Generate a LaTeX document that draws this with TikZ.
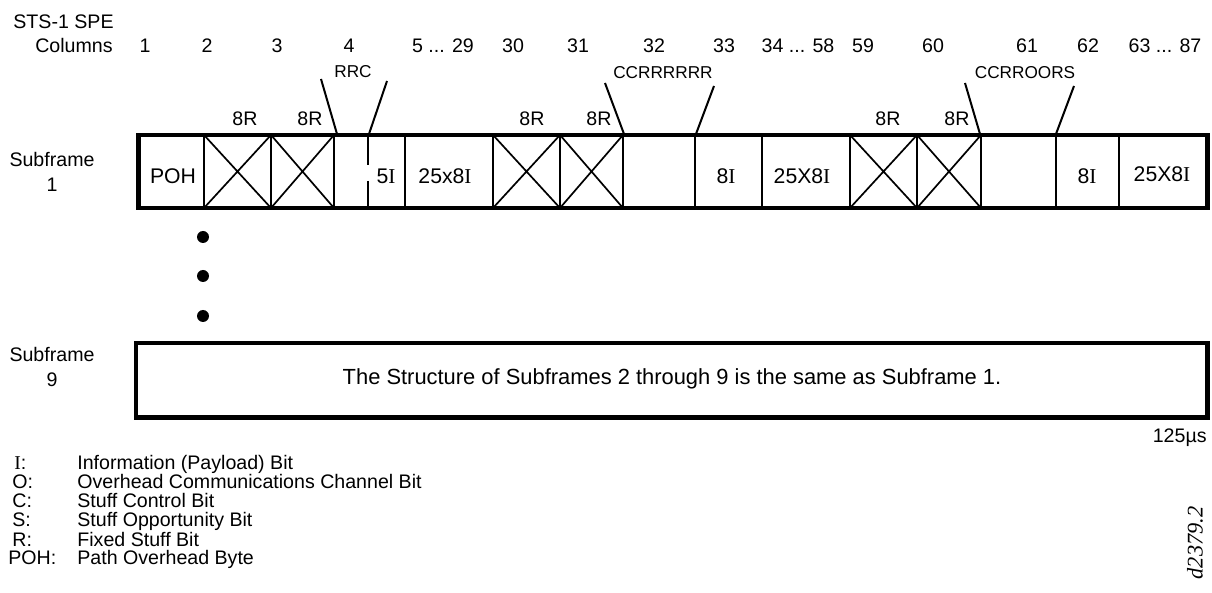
\documentclass[tikz,border=0pt]{standalone}
\usepackage{fontspec}
\setmainfont{Liberation Sans}
\newfontfamily\timesfont{Liberation Serif}
\newcommand{\bitI}{{\timesfont I}}
\usepackage{tikz}

\tikzset{
  outerline/.style={line width=2.4pt},
  divider/.style={line width=1pt},
  xline/.style={line width=0.85pt},
  leader/.style={line width=1pt},
  lbl/.style={font=\fontsize{9.8}{12.5}\selectfont, inner sep=0pt},
  smalllbl/.style={font=\fontsize{8.6}{10}\selectfont, inner sep=0pt, anchor=base},
  celltext/.style={font=\fontsize{10.6}{12}\selectfont, inner sep=0pt, anchor=base}
}

\begin{document}
\begin{tikzpicture}[x=0.5pt, y=-0.5pt]
    \useasboundingbox (0,0) rectangle (1212,593);

    % Column heading
    \node[lbl, anchor=base west] (sts) at (13,29) {STS-1 SPE};
    \node[lbl, anchor=base east] (columns) at (113,53) {Columns};
    \foreach \x/\t [count=\i] in {145/1, 207/2, 277/3, 349/4, 443/{5 ... 29},
                                  513/30, 578/31, 654/32, 724/33, 798/{34 ... 58},
                                  863/59, 933/60, 1027/61, 1088/62, 1165/{63 ... 87}}
        \node[lbl, anchor=base] (col\i) at (\x,53) {\t};

    % Row labels
    \node[lbl, align=center] (sub1) at (52,172) {Subframe\\1};
    \node[lbl, align=center] (sub9) at (52,367) {Subframe\\9};

    % Subframe 1: stuffed byte cells
    \foreach \a/\b in {204/271, 271/334, 493/560, 560/623, 850/917, 917/981} {
        \draw[divider] (\a,135) -- (\a,208) (\b,135) -- (\b,208);
        \draw[xline] (\a,135) -- (\b,208) (\a,208) -- (\b,135);
    }

    % Subframe 1: plain dividers
    \foreach \x in {405, 695, 762, 1056, 1119}
        \draw[divider] (\x,135) -- (\x,208);
    \draw[divider] (368,135) -- (368,165) (368,181) -- (368,208);

    % Subframe 1: outline
    \draw[outerline] (138.5,135) rectangle (1207.5,208);

    % Subframe 1: cell texts
    \node[celltext] (poh) at (173,184) {POH};
    \node[celltext] (info4) at (386,184) {5\bitI};
    \node[celltext] (info5) at (445,184) {25x8\bitI};
    \node[celltext] (info33) at (726,184) {8\bitI};
    \node[celltext] (info34) at (802,184) {25X8\bitI};
    \node[celltext] (info62) at (1087,184) {8\bitI};
    \node[celltext] (info63) at (1162,182) {25X8\bitI};

    % Fixed stuff labels
    \foreach \x [count=\i] in {245, 310, 532, 599, 888, 957}
        \node[lbl, anchor=base] (fix\i) at (\x,126) {8R};

    % Bit pattern labels
    \node[smalllbl] (rrc) at (353,78) {RRC};
    \node[smalllbl] (ccr) at (663,79) {CCRRRRRR};
    \node[smalllbl] (cco) at (1025,79) {CCRROORS};

    % Leader ends
    \coordinate (rrcL) at (321,79);   \coordinate (c4L) at (337,134);
    \coordinate (rrcR) at (387,81);   \coordinate (c4R) at (369,134);
    \coordinate (ccrL) at (605,83);   \coordinate (c32L) at (624,134);
    \coordinate (ccrR) at (714,86);   \coordinate (c32R) at (696,134);
    \coordinate (ccoL) at (965,83);   \coordinate (c61L) at (980,134);
    \coordinate (ccoR) at (1074,86);  \coordinate (c61R) at (1056,134);

    % Leaders
    \draw[leader] (rrcL) -- (c4L) (rrcR) -- (c4R);
    \draw[leader] (ccrL) -- (c32L) (ccrR) -- (c32R);
    \draw[leader] (ccoL) -- (c61L) (ccoR) -- (c61R);

    % Dots
    \foreach \y in {237, 276, 316}
        \fill (203,\y) circle (3pt);

    % Subframe 9
    \draw[outerline] (136,343) rectangle (1207.5,417.5);
    \node[lbl, anchor=base, font=\fontsize{10.95}{12}\selectfont] (same) at (672,385)
        {The Structure of Subframes 2 through 9 is the same as Subframe 1.};
    \node[lbl, anchor=base east] (period) at (1207,443) {125µs};

    % Legend
    \foreach \x/\k/\t [count=\i] in {14/\bitI:/Information (Payload) Bit,
                                     12/O:/Overhead Communications Channel Bit,
                                     12/C:/Stuff Control Bit,
                                     12/S:/Stuff Opportunity Bit,
                                     12/R:/Fixed Stuff Bit,
                                     8/POH:/Path Overhead Byte} {
        \node[lbl, anchor=base west] (key\i) at (\x,{451+19*\i}) {\k};
        \node[lbl, anchor=base west] (txt\i) at (77,{451+19*\i}) {\t};
    }

    % Figure id
    \node[rotate=90, inner sep=0pt, font=\timesfont\itshape\fontsize{11.2}{13}\selectfont] (figid) at (1195,543) {d2379.2};

\end{tikzpicture}
\end{document}
